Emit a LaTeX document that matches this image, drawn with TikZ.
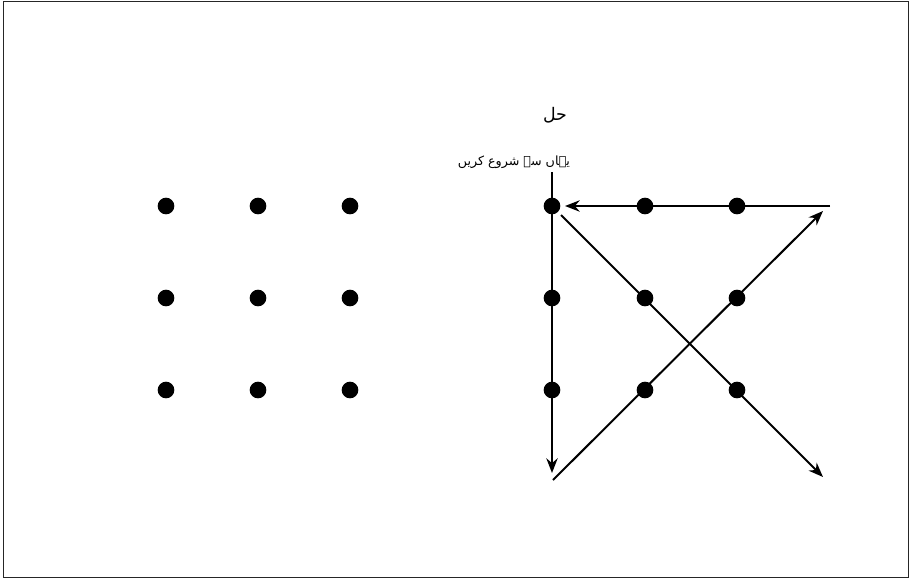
\documentclass[tikz,border=0pt]{standalone}
\usepackage{fontspec}
\usetikzlibrary{arrows.meta}
\newfontfamily\urdufont[Script=Arabic]{DejaVu Sans}
\TeXXeTstate=1

\begin{document}
\begin{tikzpicture}[x=0.75pt,y=-0.75pt,>={Stealth[length=11pt,width=8.5pt]},
    dot/.style={circle,fill=black,inner sep=0pt,minimum size=12.5pt},
    pathline/.style={line width=1.5pt}]
  \useasboundingbox (0,0) rectangle (910,579);
  \draw[line width=1.3pt,black!85] (3.5,1.5) rectangle (908.5,577.5);
  % puzzle grid
  \foreach \i/\x in {1/166,2/258,3/350}
    \foreach \j/\y in {1/206,2/298,3/390}
      \node[dot] (l\j\i) at (\x,\y) {};
  % solution grid
  \foreach \i/\x in {1/552,2/645,3/737}
    \foreach \j/\y in {1/206,2/298,3/390}
      \node[dot] (r\j\i) at (\x,\y) {};
  \node[font=\urdufont\fontsize{13}{15}\selectfont] (title) at (555,115) {\beginR حل\endR};
  \node[font=\urdufont\fontsize{9.5}{12}\selectfont,anchor=south,inner sep=1pt] (start) at (514,170) {\beginR یہاں سے شروع کریں\endR};
  % four strokes
  \coordinate (a0) at (552,172); \coordinate (a1) at (552,473);
  \coordinate (b0) at (553,480); \coordinate (b1) at (823,211);
  \coordinate (c0) at (830,206); \coordinate (c1) at (565,206);
  \coordinate (d0) at (561,215); \coordinate (d1) at (823,477);
  \draw[pathline,->] (a0) -- (a1);
  \draw[pathline,->] (b0) -- (b1);
  \draw[pathline,->] (c0) -- (c1);
  \draw[pathline,->] (d0) -- (d1);
\end{tikzpicture}
\end{document}
